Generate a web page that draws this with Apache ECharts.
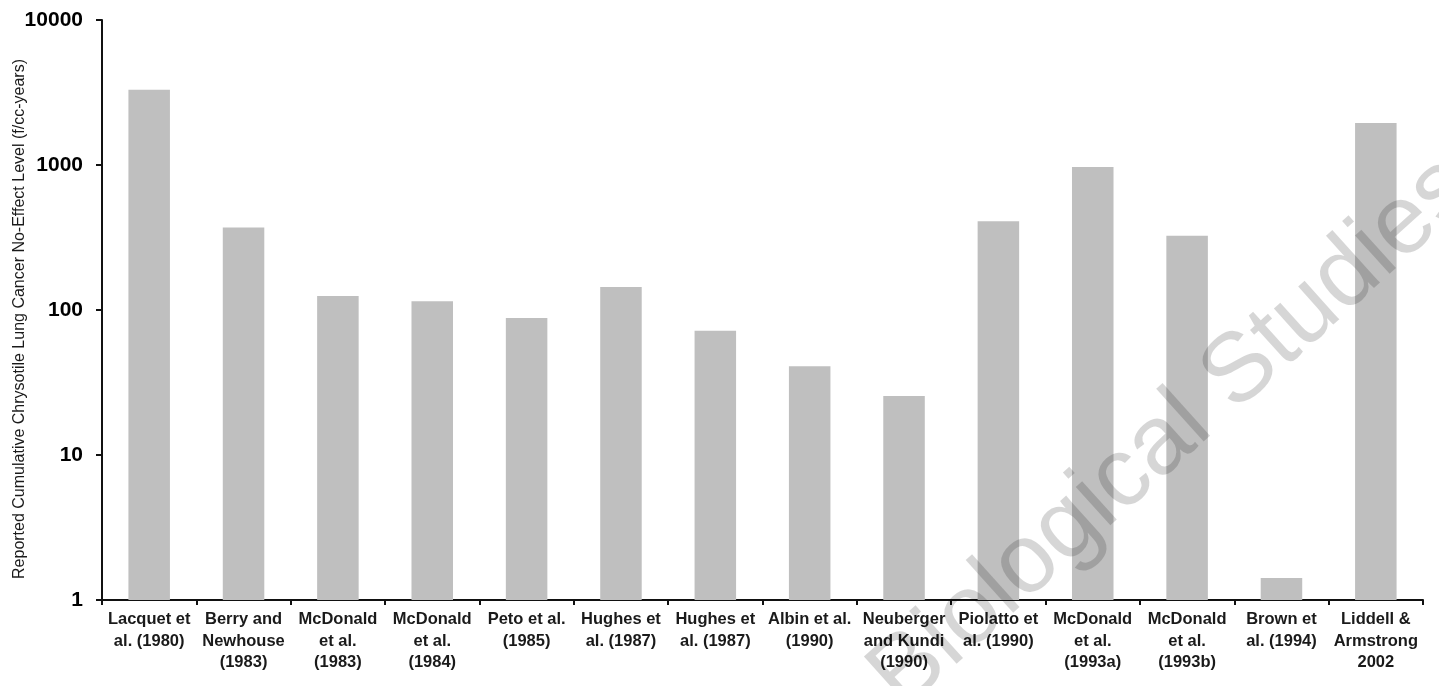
<!DOCTYPE html>
<html>
<head>
<meta charset="utf-8">
<script src="https://cdn.jsdelivr.net/npm/echarts@6/dist/echarts.min.js"></script>
<style>
  html, body { margin: 0; padding: 0; background: #fff; }
  #chart { width: 1439px; height: 686px; }
</style>
</head>
<body>
<div id="chart"></div>
<script>
// Studies (x categories)
const studies = [
  'Lacquet et\nal. (1980)',
  'Berry and\nNewhouse\n(1983)',
  'McDonald\net al.\n(1983)',
  'McDonald\net al.\n(1984)',
  'Peto et al.\n(1985)',
  'Hughes et\nal. (1987)',
  'Hughes et\nal. (1987)',
  'Albin et al.\n(1990)',
  'Neuberger\nand Kundi\n(1990)',
  'Piolatto et\nal. (1990)',
  'McDonald\net al.\n(1993a)',
  'McDonald\net al.\n(1993b)',
  'Brown et\nal. (1994)',
  'Liddell &\nArmstrong\n2002'
];

// Reported no-effect level, f/cc-years
const noEffectLevel = [3300, 370, 125, 115, 88, 144, 72, 41, 25.5, 410, 970, 325, 1.42, 1950];

// Log-axis ticks
const yTicks = [1, 10, 100, 1000, 10000];

const yAxisName = 'Reported Cumulative Chrysotile Lung Cancer No-Effect Level (f/cc-years)';
const watermarkText = 'Biological Studies';

const chart = echarts.init(document.getElementById('chart'));
const FONT = '"Liberation Sans", Arial, Helvetica, sans-serif';

chart.setOption({
  animation: false,
  backgroundColor: '#ffffff',
  grid: { left: 102, right: 16, top: 20, bottom: 86, containLabel: false },
  xAxis: {
    type: 'category',
    data: studies,
    boundaryGap: true,
    axisLine: { show: true, lineStyle: { color: '#111', width: 2 } },
    axisTick: { show: true, length: 5, lineStyle: { color: '#111', width: 2 } },
    axisLabel: {
      interval: 0,
      margin: 9,
      color: '#1a1a1a',
      fontFamily: FONT,
      fontWeight: 'bold',
      fontSize: 16.5,
      lineHeight: 21.5
    }
  },
  yAxis: {
    type: 'log',
    logBase: 10,
    min: yTicks[0],
    max: yTicks[yTicks.length - 1],
    axisLine: { show: true, lineStyle: { color: '#111', width: 2 } },
    axisTick: { show: true, length: 6, lineStyle: { color: '#111', width: 2 } },
    splitLine: { show: false },
    axisLabel: {
      margin: 19,
      color: '#000',
      fontFamily: FONT,
      fontWeight: 'bold',
      fontSize: 21,
      formatter: v => String(Math.round(v))
    }
  },
  series: [{
    type: 'bar',
    data: noEffectLevel,
    barWidth: '44%',
    itemStyle: { color: '#bfbfbf' },
    z: 2
  }],
  graphic: [
    {
      // vertical axis title
      type: 'text',
      x: 20,
      y: 319,
      rotation: Math.PI / 2,
      silent: true,
      style: {
        text: yAxisName,
        fontFamily: FONT,
        fontSize: 16,
        fill: '#1a1a1a',
        textAlign: 'center',
        textVerticalAlign: 'middle'
      }
    },
    {
      // diagonal watermark across the plot
      type: 'text',
      x: 885,
      y: 692,
      rotation: 42 * Math.PI / 180,
      silent: true,
      z: 100,
      style: {
        text: watermarkText,
        fontFamily: FONT,
        fontSize: 98,
        fill: 'rgba(0,0,0,0.16)',
        textAlign: 'left',
        textVerticalAlign: 'middle'
      }
    }
  ]
});
</script>
</body>
</html>
